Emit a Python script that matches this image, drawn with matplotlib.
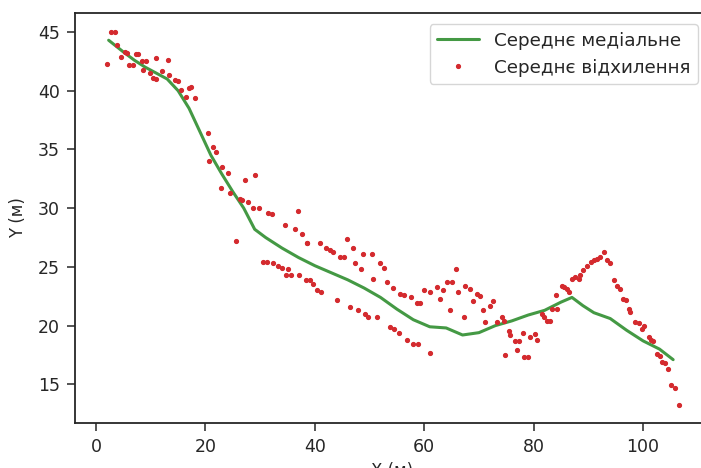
import matplotlib
matplotlib.use("Agg")
import matplotlib.pyplot as plt
import seaborn as sns

# median line
med_x = [2.3, 5, 7, 9, 11, 13, 15, 17, 19, 21, 23, 25, 27, 29, 31, 34, 37, 40,
         43, 46, 49, 52, 55, 58, 61, 64, 67, 70, 73, 76, 79, 82, 85, 87, 89, 91,
         94, 97, 100, 103, 105.5]
med_y = [44.3, 43.3, 42.6, 42.0, 41.5, 41.0, 40.0, 38.5, 36.5, 34.5, 32.9, 31.4,
         30.0, 28.2, 27.5, 26.6, 25.8, 25.1, 24.5, 23.9, 23.2, 22.4, 21.4, 20.5,
         19.9, 19.8, 19.2, 19.4, 20.0, 20.4, 20.9, 21.3, 22.0, 22.4, 21.7, 21.1,
         20.6, 19.6, 18.7, 18.0, 17.1]

# deviation points
dev_x = [2.0, 2.8, 3.4, 3.8, 4.6, 5.2, 5.7, 6.1, 6.7, 7.3, 7.6, 8.4, 9.2, 8.6,
         9.8, 10.4, 11.0, 11.0, 12.1, 13.1, 13.4, 14.4, 15.0, 15.6, 16.5, 17.0,
         17.4, 18.0, 20.5, 21.4, 22.0, 20.6, 23.1, 24.1, 22.8, 24.4, 27.2, 29.0,
         26.6, 27.8, 28.7, 29.8, 31.4, 32.1, 34.5, 36.3, 36.9, 37.6, 38.5, 25.5,
         26.3, 38.6, 41.0, 42.1, 42.7, 43.4, 44.6, 45.3, 45.8, 46.9, 48.8, 50.4,
         51.9, 52.6, 47.3, 48.4, 50.7, 53.1, 54.2, 55.6, 56.3, 57.5, 58.6, 59.2,
         60.0, 61.1, 62.3, 62.9, 63.5, 64.2, 65.0, 64.7, 65.8, 30.5, 31.2, 32.4,
         33.3, 33.9, 35.1, 34.8, 35.7, 37.1, 38.4, 39.2, 39.7, 40.3, 41.2, 44.1,
         46.5, 47.9, 49.2, 49.8, 51.4, 53.7, 54.5, 55.4, 56.9, 58.0, 58.9, 61.1,
         66.2, 67.5, 68.4, 69.6, 70.2, 69.0, 70.8, 72.0, 72.5, 67.3, 71.1, 73.3,
         74.2, 74.5, 75.4, 75.7, 76.6, 77.4, 78.0, 79.4, 80.3, 80.6, 76.9, 74.8,
         78.2, 78.9, 81.8, 82.4, 83.0, 81.5, 83.3, 84.2, 84.1, 85.2, 85.5, 86.1,
         86.4, 87.0, 87.6, 88.2, 88.5, 89.1, 89.8, 90.4, 91.0, 91.6, 92.2, 92.8,
         93.4, 94.0, 94.6, 95.2, 95.8, 96.4, 96.8, 97.4, 97.7, 98.6, 99.2, 100.1,
         99.8, 101.0, 101.5, 101.9, 102.6, 103.1, 103.5, 104.1, 104.5, 105.1,
         105.9, 106.5]
dev_y = [42.3, 45.0, 45.0, 43.9, 42.9, 43.3, 43.2, 42.2, 42.2, 43.1, 43.1, 42.5,
         42.5, 41.8, 41.5, 41.1, 41.0, 42.8, 41.7, 42.6, 41.3, 40.9, 40.8, 40.1,
         39.5, 40.2, 40.3, 39.4, 36.4, 35.2, 34.8, 34.0, 33.5, 33.0, 31.7, 31.3,
         32.4, 32.8, 30.7, 30.5, 30.0, 30.0, 29.6, 29.5, 28.6, 28.2, 29.8, 27.8,
         27.0, 27.2, 30.8, 27.0, 27.0, 26.6, 26.4, 26.3, 25.8, 25.8, 27.4, 26.6,
         26.1, 26.1, 25.3, 24.9, 25.3, 24.8, 24.0, 23.7, 23.2, 22.7, 22.6, 22.4,
         21.9, 21.9, 23.0, 22.9, 23.3, 22.3, 23.0, 23.7, 23.7, 21.3, 24.8, 25.4,
         25.4, 25.3, 25.1, 24.9, 24.8, 24.3, 24.3, 24.3, 23.9, 23.9, 23.5, 23.0,
         22.9, 22.2, 21.6, 21.3, 21.0, 20.7, 20.7, 19.9, 19.7, 19.4, 18.8, 18.4,
         18.4, 17.7, 22.9, 23.4, 23.1, 22.7, 22.5, 22.1, 21.3, 21.7, 22.1, 20.7,
         20.3, 20.3, 20.7, 20.4, 19.5, 19.2, 18.7, 18.7, 19.4, 19.0, 19.3, 18.8,
         17.9, 17.5, 17.3, 17.3, 20.7, 20.4, 20.4, 21.0, 21.4, 21.4, 22.6, 23.4,
         23.3, 23.1, 22.9, 24.0, 24.1, 24.0, 24.3, 24.7, 25.1, 25.4, 25.6, 25.7,
         25.8, 26.3, 25.6, 25.3, 23.9, 23.4, 23.1, 22.3, 22.2, 21.4, 21.2, 20.3,
         20.2, 20.0, 19.7, 19.0, 18.8, 18.7, 17.6, 17.4, 16.9, 16.8, 16.3, 14.9,
         14.7, 13.2]

sns.set_style("ticks")
plt.rcParams['font.family'] = ['DejaVu Sans']

fig = plt.figure(figsize=(7.01, 4.68), dpi=100)
ax = fig.add_axes([0.107, 0.096, 0.904, 0.877])

ax.plot(med_x, med_y, color="#449944", lw=2.2, label="Середнє медіальне")
ax.plot(dev_x, dev_y, ".", color="#d42a2e", ms=5.5, label="Середнє відхилення")

ax.set_xlim(-3.85, 112)
ax.set_ylim(11.7, 46.65)
ax.set_yticks([15, 20, 25, 30, 35, 40, 45])
ax.tick_params(labelsize=12.5, length=6, width=1.1, pad=5)
for s in ax.spines.values():
    s.set_linewidth(1.3)
ax.set_xlabel("X (м)", fontsize=12)
ax.set_ylabel("Y (м)", fontsize=12, labelpad=8)
ax.legend(loc="upper right", fontsize=13.2, handlelength=2.3,
          bbox_to_anchor=(0.9915, 0.985), borderaxespad=0.3)

fig.savefig("out.png", dpi=100)
